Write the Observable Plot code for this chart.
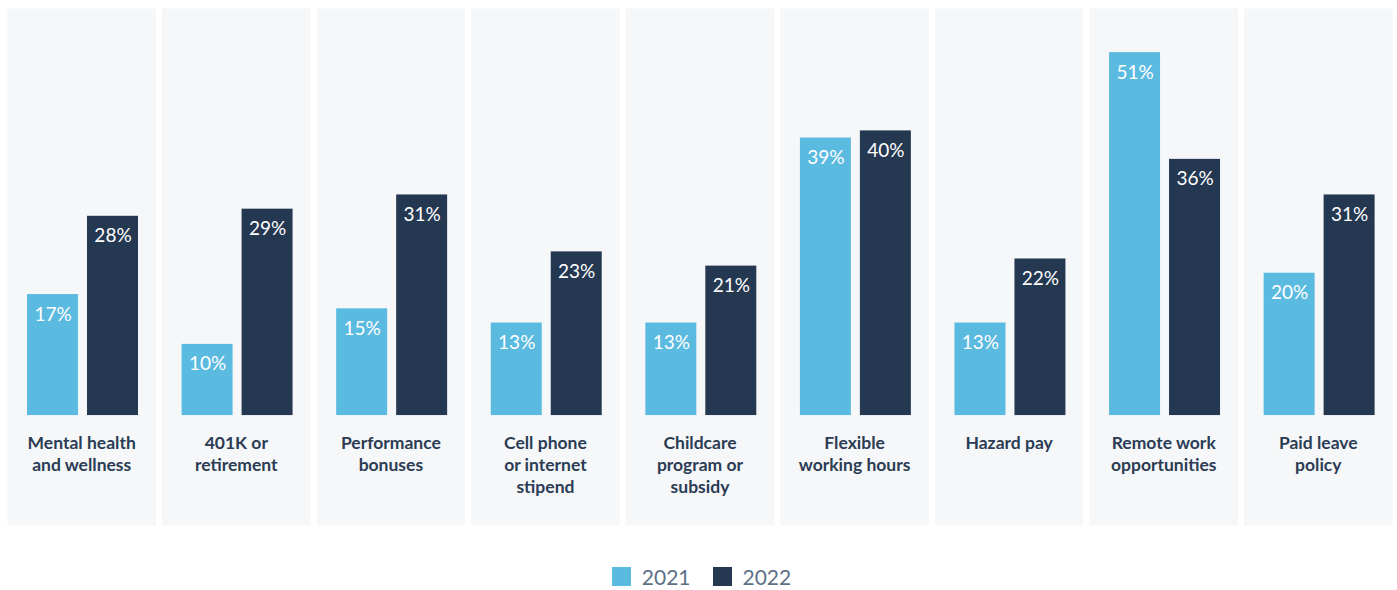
<!DOCTYPE html>
<html>
<head>
<meta charset="utf-8">
<script src="https://cdn.jsdelivr.net/npm/d3@7"></script>
<script src="https://cdn.jsdelivr.net/npm/@observablehq/plot@0.6"></script>
<style>
  html, body { margin: 0; padding: 0; background: #ffffff; }
  body { font-family: "Source Sans Pro", Lato, "Noto Sans", sans-serif; width: 1397px; }
  #chart svg { display: block; }
  .legend { display: flex; justify-content: center; align-items: center; height: 19px; margin-top: 22px; padding-left: 6px; }
  .legend .item { display: flex; align-items: center; }
  .legend .sw { width: 19px; height: 19px; margin-right: 11px; }
  .legend .lab { font-size: 21px; color: #5d7088; }
  .legend .item + .item { margin-left: 22px; }
</style>
</head>
<body>
<div id="chart"></div>
<div class="legend" id="legend"></div>
<script>
const categories = [
  "Mental health\nand wellness",
  "401K or\nretirement",
  "Performance\nbonuses",
  "Cell phone\nor internet\nstipend",
  "Childcare\nprogram or\nsubsidy",
  "Flexible\nworking hours",
  "Hazard pay",
  "Remote work\nopportunities",
  "Paid leave\npolicy"
];
const years = ["2021", "2022"];
const values2021 = [17, 10, 15, 13, 13, 39, 13, 51, 20];
const values2022 = [28, 29, 31, 23, 21, 40, 22, 36, 31];
const colors = ["#5bbae0", "#243852"];

const data = [];
categories.forEach((c, i) => {
  data.push({category: c, year: years[0], value: values2021[i]});
  data.push({category: c, year: years[1], value: values2022[i]});
});
const catData = categories.map(c => ({category: c}));

const chart = Plot.plot({
  width: 1397,
  height: 545,
  marginLeft: 7,
  marginRight: 5,
  marginTop: 8,
  marginBottom: 20,
  style: {fontFamily: "'Source Sans Pro', Lato, 'Noto Sans', sans-serif", background: "#ffffff"},
  fx: {domain: categories, paddingInner: 0.04, paddingOuter: 0, round: false, axis: null, label: null},
  x: {domain: years, paddingInner: 0.15, paddingOuter: 0.312, align: 0.535, round: false, axis: null},
  y: {domain: [-15.45, 57.2], axis: null},
  color: {domain: years, range: colors},
  marks: [
    Plot.frame({fill: "#f5f7f9", stroke: null}),
    Plot.barY(data, {fx: "category", x: "year", y: "value", fill: "year"}),
    Plot.text(data, {fx: "category", x: "year", y: "value", text: d => d.value + "%", dy: 20, fill: "#ffffff", fontSize: 19}),
    Plot.text(catData, {fx: "category", y: () => 0, text: "category", lineAnchor: "top", dy: 18, lineHeight: 22 / 17.5, fontSize: 17.5, fontWeight: "bold", fill: "#2b3c54"})
  ]
});
document.getElementById("chart").appendChild(chart);

const legend = document.getElementById("legend");
years.forEach((y, i) => {
  const item = document.createElement("div");
  item.className = "item";
  const sw = document.createElement("div");
  sw.className = "sw";
  sw.style.background = colors[i];
  const lab = document.createElement("span");
  lab.className = "lab";
  lab.textContent = y;
  item.appendChild(sw);
  item.appendChild(lab);
  legend.appendChild(item);
});
</script>
</body>
</html>
